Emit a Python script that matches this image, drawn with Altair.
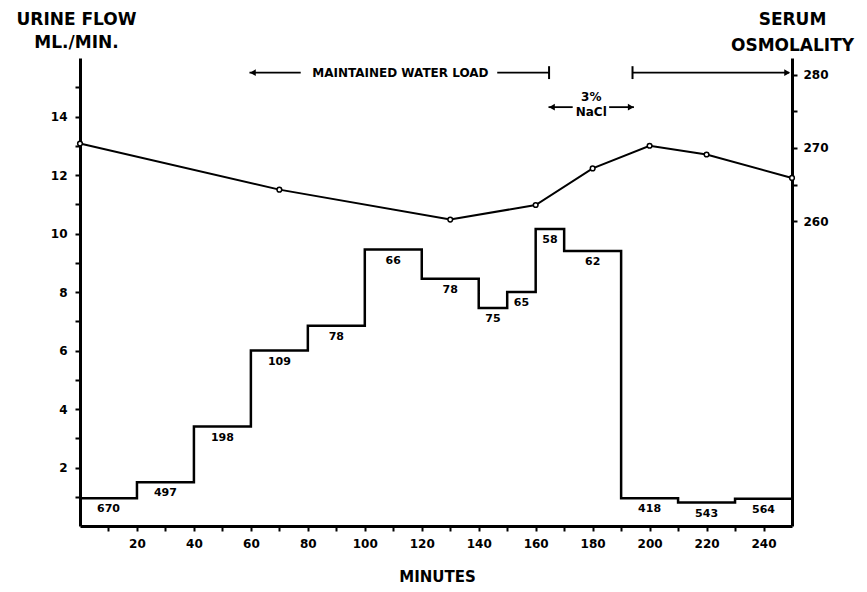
import altair as alt
import pandas as pd

# ---- data ----
step_start = [0, 20, 40, 60, 80, 100, 120, 140, 150, 160, 170, 190, 210, 230]
step_end = [20, 40, 60, 80, 100, 120, 140, 150, 160, 170, 190, 210, 230, 250]
urine_flow = [0.95, 1.5, 3.4, 6.0, 6.85, 9.45, 8.45, 7.45, 8.0, 10.15, 9.4, 0.95, 0.8, 0.93]
urine_osm_labels = ["670", "497", "198", "109", "78", "66", "78", "75", "65", "58", "62", "418", "543", "564"]

serum_time = [0, 70, 130, 160, 180, 200, 220, 250]
serum_osm = [270.6, 264.3, 260.2, 262.2, 267.2, 270.3, 269.1, 265.9]

# annotation texts and spans (minutes / urine-flow units)
ann_text = ["MAINTAINED WATER LOAD", "3%", "NaCl"]
ann_text_x = [112.5, 179.5, 179.5]
ann_text_y = [15.5, 14.65, 14.15]
ann_line_x = [59.5, 146.5, 194.0, 164.5, 185.8]
ann_line_x2 = [77.5, 164.7, 249.0, 173.0, 194.5]
ann_line_y = [15.5, 15.5, 15.5, 14.32, 14.32]
ann_bar_x = [164.7, 194.0]
ann_bar_y = [15.28, 15.28]
ann_bar_y2 = [15.72, 15.72]
ann_head_x = [60.7, 248.3, 165.7, 193.4]
ann_head_y = [15.5, 15.5, 14.32, 14.32]
ann_head_shape = ["triangle-left", "triangle-right", "triangle-left", "triangle-right"]

FONT = "DejaVu Sans"

step_df = pd.DataFrame({"t": step_start + [step_end[-1]], "flow": urine_flow + [urine_flow[-1]]})
lab_df = pd.DataFrame({
    "mid": [(a + b) / 2 for a, b in zip(step_start, step_end)],
    "flow": urine_flow,
    "lab": urine_osm_labels,
})
serum_df = pd.DataFrame({"t": serum_time, "osm": serum_osm})
txt_df = pd.DataFrame({"x": ann_text_x, "y": ann_text_y, "txt": ann_text})
line_df = pd.DataFrame({"x": ann_line_x, "x2": ann_line_x2, "y": ann_line_y})
bar_df = pd.DataFrame({"x": ann_bar_x, "y": ann_bar_y, "y2": ann_bar_y2})
head_df = pd.DataFrame({"x": ann_head_x, "y": ann_head_y, "shape": ann_head_shape})

xs = alt.Scale(domain=[0, 250], nice=False, zero=False)
ys = alt.Scale(domain=[0, 16], nice=False)
yr = alt.Scale(domain=[218.3, 282.3], nice=False, zero=False)

common_axis = dict(
    domainColor="black", domainWidth=3, tickColor="black", tickWidth=2, tickSize=5,
    labelFont=FONT, labelFontWeight="bold", labelFontSize=12, labelColor="black",
    titleFont=FONT, titleFontWeight="bold", titleColor="black", grid=False,
)

x_axis = alt.Axis(
    values=list(range(10, 250, 10)),
    labelExpr="datum.value % 20 == 0 ? datum.label : ''",
    labelPadding=7, title="MINUTES", titleFontSize=15, titleX=357, titleY=50,
    titleBaseline="middle", **common_axis,
)
y_axis = alt.Axis(
    values=list(range(1, 16)),
    labelExpr="datum.value % 2 == 0 ? datum.label : ''",
    labelPadding=8, title=["URINE FLOW", "ML./MIN."], titleAngle=0, titleAlign="center",
    titleBaseline="top", titleX=-4, titleY=-47, titleFontSize=17, titleLineHeight=23,
    **common_axis,
)
yr_axis = alt.Axis(
    orient="right", values=[260, 265, 270, 275, 280],
    labelExpr="datum.value % 10 == 0 ? datum.label : ''",
    labelPadding=6, title=["SERUM", "OSMOLALITY"], titleAngle=0, titleAlign="center",
    titleBaseline="top", titleX=0, titleY=-47, titleFontSize=17, titleLineHeight=26,
    **common_axis,
)

X = lambda f: alt.X(f, scale=xs, axis=x_axis)
YL = lambda f: alt.Y(f, scale=ys, axis=y_axis)

steps = alt.Chart(step_df).mark_line(interpolate="step-after", color="black", strokeWidth=2.5).encode(
    x=X("t:Q"), y=YL("flow:Q"),
)
labels = alt.Chart(lab_df).mark_text(font=FONT, fontWeight="bold", fontSize=11, dy=11, color="black").encode(
    x=X("mid:Q"), y=YL("flow:Q"), text="lab:N",
)
ann_txt = alt.Chart(txt_df).mark_text(font=FONT, fontWeight="bold", fontSize=12, color="black").encode(
    x=X("x:Q"), y=YL("y:Q"), text="txt:N",
)
ann_lines = alt.Chart(line_df).mark_rule(color="black", strokeWidth=1.8).encode(
    x=X("x:Q"), x2="x2:Q", y=YL("y:Q"),
)
ann_bars = alt.Chart(bar_df).mark_rule(color="black", strokeWidth=2).encode(
    x=X("x:Q"), y=YL("y:Q"), y2="y2:Q",
)
ann_heads = alt.Chart(head_df).mark_point(filled=True, color="black", size=45, opacity=1).encode(
    x=X("x:Q"), y=YL("y:Q"), shape=alt.Shape("shape:N", scale=None),
)

left = alt.layer(steps, labels, ann_lines, ann_bars, ann_heads, ann_txt)

serum = alt.Chart(serum_df).mark_line(
    color="black", strokeWidth=2,
    point=alt.OverlayMarkDef(filled=False, fill="white", stroke="black", strokeWidth=1.5, size=22, opacity=1),
).encode(
    x=X("t:Q"),
    y=alt.Y("osm:Q", scale=yr, axis=yr_axis),
)

chart = alt.layer(left, serum).resolve_scale(y="independent").properties(
    width=712, height=468,
    autosize="none",
    background="white",
    padding={"left": 72, "top": 50, "right": 66, "bottom": 58},
).configure_view(stroke=None)

chart.save("out.html", embed_options={"renderer": "svg", "actions": False})
